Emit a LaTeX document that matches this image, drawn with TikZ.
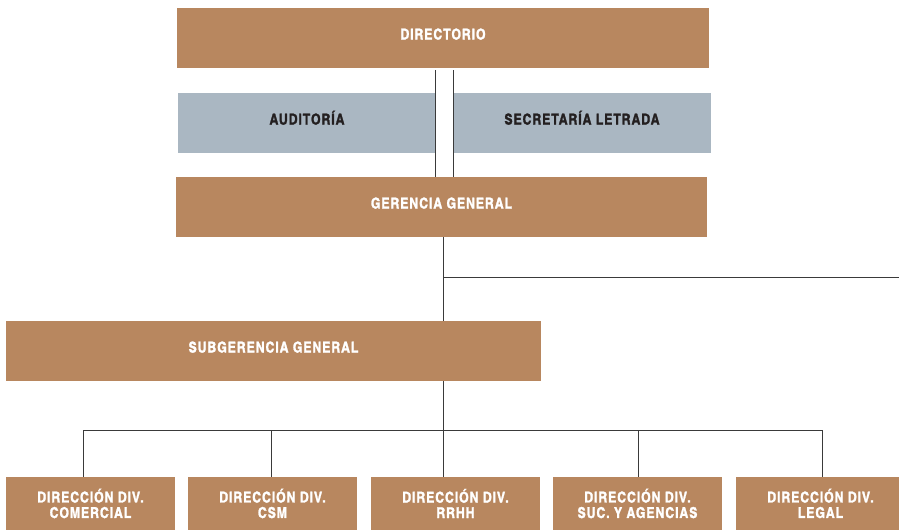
\documentclass[tikz,border=0pt]{standalone}
\usepackage{fontspec}
\newfontfamily\cnb{texgyreheroscn-bold.otf}[LetterSpace=6,FakeBold=1.5]
\definecolor{brownc}{HTML}{B8875F}
\definecolor{grayc}{HTML}{AAB7C2}
\definecolor{darktext}{HTML}{231F20}
\definecolor{linec}{HTML}{3A3A3A}
\begin{document}
\begin{tikzpicture}[x=1pt,y=-1pt,
  box/.style={draw=none,inner sep=0pt,minimum height=60pt,align=center,
    font=\cnb\fontsize{15}{15.5}\selectfont},
  onebox/.style={box,text height=11pt,text depth=8pt},
  brownbox/.style={onebox,fill=brownc,text=white},
  graybox/.style={onebox,fill=grayc,text=darktext},
  divbox/.style={box,fill=brownc,text=white,minimum width=169pt,minimum height=53pt},
  conn/.style={draw=linec,line width=0.9pt}]
\useasboundingbox (0,0) rectangle (899,530);
\clip (0,0) rectangle (899,530);
% boxes
\node[brownbox,minimum width=532pt] (dir) at (443,38) {DIRECTORIO};
\node[graybox,minimum width=258pt] (aud) at (307,123) {AUDITORÍA};
\node[graybox,minimum width=258pt] (sec) at (582,123) {SECRETARÍA LETRADA};
\node[brownbox,minimum width=531pt] (ger) at (441.5,207) {GERENCIA GENERAL};
\node[brownbox,minimum width=535pt] (sub) at (273.5,351) {SUBGERENCIA GENERAL};
\node[divbox] (d1) at (90.5,503.5) {DIRECCIÓN DIV.\\COMERCIAL};
\node[divbox] (d2) at (272.5,503.5) {DIRECCIÓN DIV.\\CSM};
\node[divbox] (d3) at (455.5,503.5) {DIRECCIÓN DIV.\\RRHH};
\node[divbox] (d4) at (637.5,503.5) {DIRECCIÓN DIV.\\SUC. Y AGENCIAS};
\node[divbox] (d5) at (820.5,503.5) {DIRECCIÓN DIV.\\LEGAL};
% coordinates
\coordinate (la) at (435,0);
\coordinate (lb) at (453,0);
\coordinate (t1) at (443,277);
\coordinate (e1) at (899,277);
\coordinate (b1) at (83,430);
\coordinate (b2) at (271,430);
\coordinate (b3) at (443,430);
\coordinate (b4) at (638,430);
\coordinate (b5) at (822,430);
% connectors
\draw[conn] ([yshift=-2pt]la |- dir.south) -- (la |- ger.north);
\draw[conn] ([yshift=-2pt]lb |- dir.south) -- (lb |- ger.north);
\draw[conn] (t1 |- ger.south) -- (t1 |- sub.north);
\draw[conn] (t1) -- (e1);
\draw[conn] (t1 |- sub.south) -- (t1 |- d3.north);
\draw[conn] (b1) -- (b5);
\draw[conn] (b1) -- (b1 |- d1.north);
\draw[conn] (b2) -- (b2 |- d2.north);
\draw[conn] (b4) -- (b4 |- d4.north);
\draw[conn] (b5) -- (b5 |- d5.north);
\end{tikzpicture}
\end{document}
